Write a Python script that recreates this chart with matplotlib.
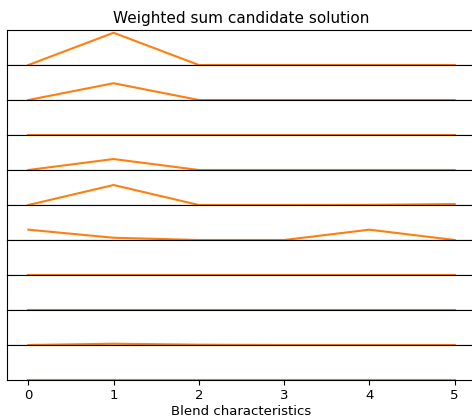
import numpy as np
import matplotlib
matplotlib.use('Agg')
import matplotlib.pyplot as plt

# blend characteristics on the x axis
characteristics = [0, 1, 2, 3, 4, 5]

# one weight profile per row, top to bottom
row_1 = [0.0, 1.0, 0.0, 0.0, 0.0, 0.0]
row_2 = [0.0, 0.52, 0.0, 0.0, 0.0, 0.0]
row_3 = [0.0, 0.0, 0.0, 0.0, 0.0, 0.0]
row_4 = [0.0, 0.34, 0.0, 0.0, 0.0, 0.0]
row_5 = [0.0, 0.62, 0.0, 0.0, 0.005, 0.03]
row_6 = [0.32, 0.07, 0.0, 0.0, 0.32, 0.0]
row_7 = [0.0, 0.0, 0.0, 0.0, 0.0, 0.0]
row_8 = [0.0, 0.0, 0.0, 0.0, 0.0, 0.0]
row_9 = [0.0, 0.04, 0.01, 0.0, 0.0, 0.0]
row_10 = [0.0, 0.0, 0.0, 0.0, 0.0, 0.0]

rows = [row_1, row_2, row_3, row_4, row_5, row_6, row_7, row_8, row_9, row_10]

fig, axes = plt.subplots(len(rows), 1, sharex=True, sharey=True,
                         figsize=(4.72, 4.19), dpi=100)
fig.subplots_adjust(left=7 / 472, right=476 / 472,
                    top=1 - 30 / 419, bottom=1 - 380 / 419, hspace=0)

for i, ax in enumerate(axes):
    ax.plot(characteristics, rows[i], color='C1', linewidth=1.5)
    ax.set_yticks([])
    ax.spines['right'].set_visible(False)
    if i < len(rows) - 1:
        ax.tick_params(bottom=False)

axes[0].set_ylim(0, 1.085)
axes[0].set_xlim(-0.25, 5.25)
axes[0].set_title('Weighted sum candidate solution', fontsize=11, pad=5)
axes[-1].set_xticks(characteristics)
axes[-1].tick_params(labelsize=9.5, pad=3)
axes[-1].set_xlabel('Blend characteristics', fontsize=9.5, labelpad=2)

fig.savefig('out.png', dpi=100)
